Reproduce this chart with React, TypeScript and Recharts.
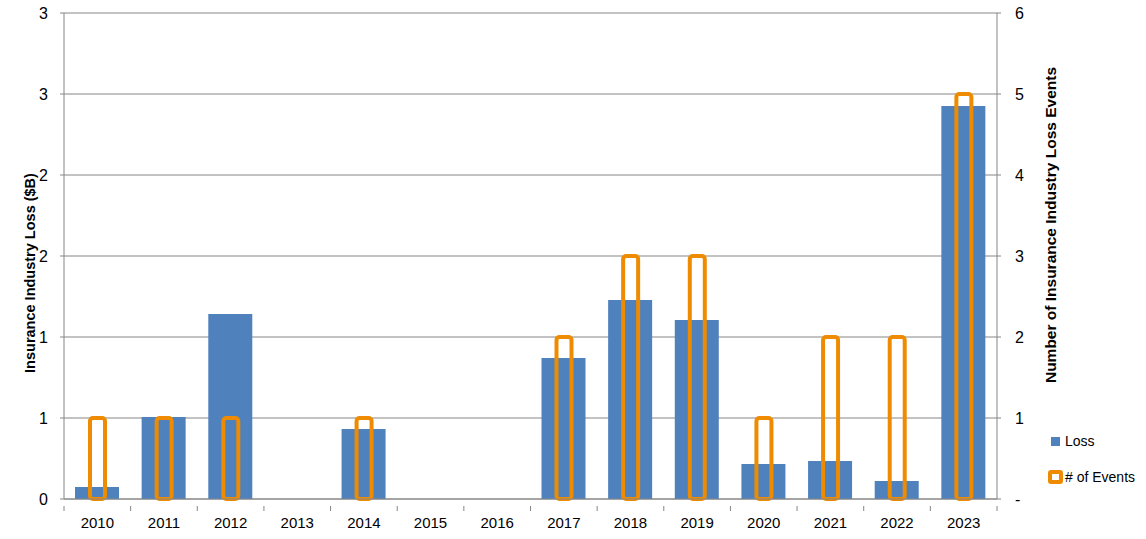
import { ComposedChart, Bar, XAxis, YAxis, CartesianGrid } from 'recharts'

const years = ['2010', '2011', '2012', '2013', '2014', '2015', '2016', '2017', '2018', '2019', '2020', '2021', '2022', '2023']
const loss = [0.074, 0.506, 1.142, 0, 0.432, 0, 0, 0.87, 1.228, 1.105, 0.216, 0.235, 0.111, 2.426]
const events = [1, 1, 1, 0, 1, 0, 0, 2, 3, 3, 1, 2, 2, 5]
const lossTicks = [0, 0.5, 1, 1.5, 2, 2.5, 3]
const eventTicks = [0, 1, 2, 3, 4, 5, 6]

const BLUE = '#4F81BD'
const ORANGE = '#EE8B00'
const GRAY = '#868686'
const FONT = '"Liberation Sans", Arial, sans-serif'

const W = 1146
const H = 539
const LEFT = 64
const RIGHT = 149
const TOP = 13
const BOTTOM = 40
const band = (W - LEFT - RIGHT) / years.length

const data = years.map((year, i) => ({
  year,
  loss: loss[i] || null,
  events: events[i] || null,
}))

// hollow, rounded outline for the event counts
function EventShape(props: any) {
  const { x, y, width, height } = props
  if (!height || height <= 0) return null
  return (
    <rect
      x={x}
      y={y}
      width={width}
      height={height}
      rx={3}
      ry={3}
      fill="none"
      stroke={ORANGE}
      strokeWidth={4}
    />
  )
}

// year label plus tick marks on the category boundaries
function YearTick(props: any) {
  const { x, y, payload, index } = props
  const left = x - band / 2
  return (
    <g>
      <line x1={left} y1={y - 1} x2={left} y2={y + 4} stroke={GRAY} />
      {index === years.length - 1 && (
        <line x1={left + band} y1={y - 1} x2={left + band} y2={y + 4} stroke={GRAY} />
      )}
      <text x={x} y={y + 21} textAnchor="middle" fontSize={15} fill="#000" fontFamily={FONT}>
        {payload.value}
      </text>
    </g>
  )
}

function LegendBox() {
  return (
    <div
      style={{
        position: 'absolute',
        left: 1048,
        top: 431,
        fontFamily: FONT,
        fontSize: 14,
        color: '#000',
      }}
    >
      <div style={{ display: 'flex', alignItems: 'center', height: 20, marginLeft: 3 }}>
        <span style={{ width: 9, height: 9, background: BLUE, display: 'inline-block', marginRight: 5 }} />
        Loss
      </div>
      <div style={{ display: 'flex', alignItems: 'center', height: 20, marginTop: 16 }}>
        <span
          style={{
            width: 7,
            height: 6,
            border: `4px solid ${ORANGE}`,
            borderRadius: 3,
            background: '#fff',
            display: 'inline-block',
            marginRight: 2,
          }}
        />
        # of Events
      </div>
    </div>
  )
}

export default function App() {
  return (
    <div style={{ position: 'absolute', left: 0, top: 0, width: W, height: H, background: '#fff' }}>
      <ComposedChart
        width={W}
        height={H}
        data={data}
        margin={{ top: TOP, right: 0, left: 0, bottom: 0 }}
      >
        <CartesianGrid vertical={false} stroke={GRAY} yAxisId="left" />
        <XAxis
          dataKey="year"
          xAxisId="a"
          height={BOTTOM}
          stroke={GRAY}
          tickLine={false}
          tick={<YearTick />}
          interval={0}
        />
        <XAxis dataKey="year" xAxisId="b" hide />
        <YAxis
          yAxisId="left"
          width={LEFT}
          domain={[0, 3]}
          ticks={lossTicks}
          stroke={GRAY}
          tickSize={4}
          tickMargin={12}
          tick={{ fill: '#000', fontSize: 16, fontFamily: FONT }}
          tickFormatter={(v: number) => String(Math.round(v))}
        />
        <YAxis
          yAxisId="right"
          orientation="right"
          width={RIGHT}
          domain={[0, 6]}
          ticks={eventTicks}
          stroke={GRAY}
          tickSize={4}
          tickMargin={14}
          tick={{ fill: '#000', fontSize: 16, fontFamily: FONT }}
          tickFormatter={(v: number) => (v === 0 ? '-' : String(v))}
        />
        <Bar
          dataKey="loss"
          name="Loss"
          xAxisId="a"
          yAxisId="left"
          fill={BLUE}
          barSize={44}
          isAnimationActive={false}
        />
        <Bar
          dataKey="events"
          name="# of Events"
          xAxisId="b"
          yAxisId="right"
          barSize={15}
          shape={<EventShape />}
          isAnimationActive={false}
        />
        <text
          x={30}
          y={273}
          transform="rotate(-90 30 273)"
          textAnchor="middle"
          dominantBaseline="central"
          fontSize={14.5}
          fontWeight="bold"
          fontFamily={FONT}
          fill="#000"
        >
          Insurance Industry Loss ($B)
        </text>
        <text
          x={1050}
          y={225}
          transform="rotate(-90 1050 225)"
          textAnchor="middle"
          dominantBaseline="central"
          fontSize={15.5}
          fontWeight="bold"
          fontFamily={FONT}
          fill="#000"
        >
          Number of Insurance Industry Loss Events
        </text>
      </ComposedChart>
      <LegendBox />
    </div>
  )
}
